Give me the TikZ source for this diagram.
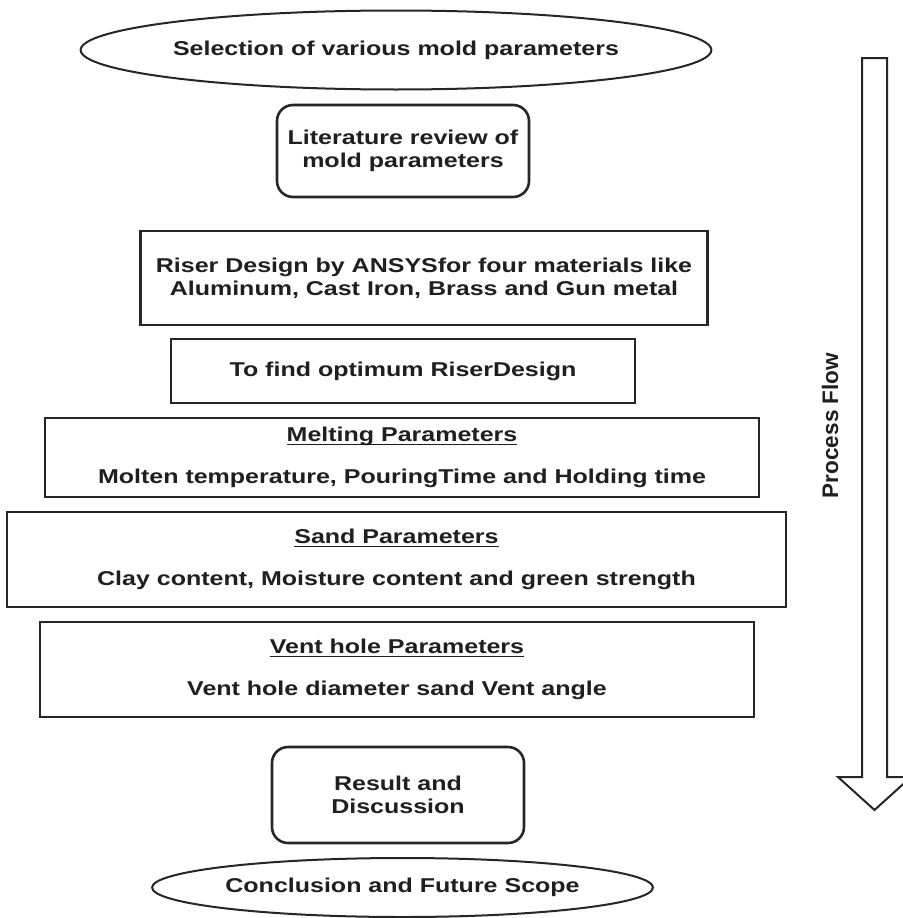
\documentclass[tikz,border=0pt]{standalone}
\usepackage{fontspec}
\setmainfont{Liberation Sans}
\newfontfamily\boxfont[FakeStretch=1.25]{Liberation Sans}
\usetikzlibrary{shapes.geometric}
\newcommand\titul[1]{\setbox0=\hbox{#1}\rlap{\copy0}\rule[-3.2pt]{\wd0}{1.5pt}}
\tikzset{
  txt/.style={font=\boxfont\bfseries\fontsize{20}{23}\selectfont, text=black!88, align=center, inner sep=0pt},
  sqbox/.style={txt, draw=black!85, line width=2.6pt, rectangle},
  rbox/.style={sqbox, rounded corners=16pt},
  ovl/.style={txt, draw=black!85, line width=2pt, ellipse},
}
\begin{document}
\begin{tikzpicture}[x=1pt,y=-1pt]
\useasboundingbox (0,0) rectangle (902,918);
\fill[white] (0,0) rectangle (902,918);
\node[ovl, minimum width=516pt, minimum height=79pt] (sel) at (396,50) {Selection of various mold parameters};
\node[rbox, minimum width=252pt, minimum height=92pt] (lit) at (403,151) {Literature review of\\mold parameters};
\node[sqbox, minimum width=567pt, minimum height=94pt] (riser) at (424,278) {Riser Design by ANSYSfor four materials like\\Aluminum, Cast Iron, Brass and Gun metal};
\node[sqbox, minimum width=464pt, minimum height=64pt] (opt) at (403,371) {To find optimum RiserDesign};
\node[sqbox, minimum width=714pt, minimum height=79pt] (melt) at (402,457.5) {\titul{Melting Parameters}\\[18.5pt]Molten temperature, PouringTime and Holding time};
\node[sqbox, minimum width=779pt, minimum height=95pt] (sand) at (396.5,559.5) {\titul{Sand Parameters}\\[18.5pt]Clay content, Moisture content and green strength};
\node[sqbox, minimum width=714pt, minimum height=95pt] (vent) at (397,669.5) {\titul{Vent hole Parameters}\\[18.5pt]Vent hole diameter sand Vent angle};
\node[rbox, minimum width=252pt, minimum height=96pt] (res) at (398,795) {Result and\\Discussion};
\node[ovl, minimum width=463pt, minimum height=59pt] (conc) at (402.5,887.5) {Conclusion and Future Scope};
\draw[line width=2pt, draw=black!85, line join=miter] (862,58) -- (887,58) -- (887,777) -- (911,777) -- (874.5,810) -- (838,777) -- (862,777) -- cycle;
\node[font=\bfseries\fontsize{22.5}{26}\selectfont, text=black!88, rotate=90, inner sep=0pt] (pf) at (830,425.5) {Process Flow};
\end{tikzpicture}
\end{document}
